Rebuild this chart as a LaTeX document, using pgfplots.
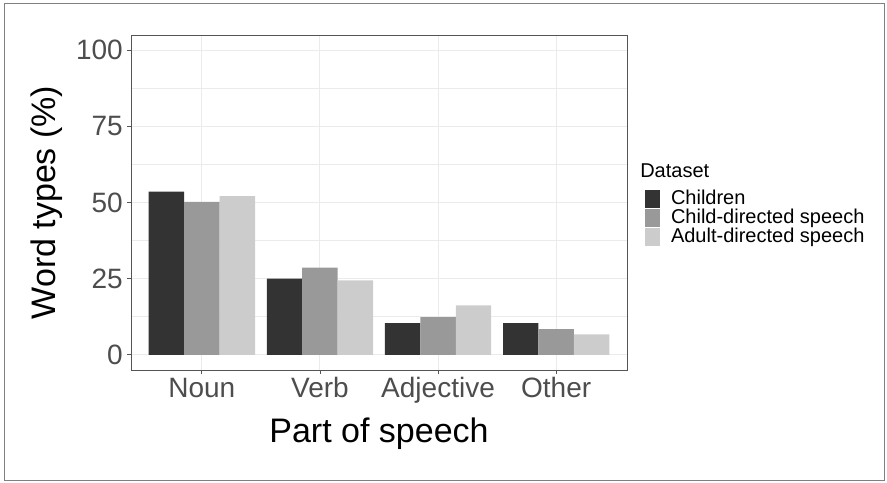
\documentclass[border=0pt]{standalone}
\usepackage{pgfplots}
\pgfplotsset{compat=1.18}
\usepackage{fontspec}
\setmainfont{Liberation Sans}
\definecolor{cA}{HTML}{333333}
\definecolor{cB}{HTML}{999999}
\definecolor{cC}{HTML}{CCCCCC}
\definecolor{gridc}{HTML}{EBEBEB}
\definecolor{tickc}{HTML}{4D4D4D}
\definecolor{framec}{HTML}{555555}
\begin{document}
\begin{tikzpicture}
\useasboundingbox (0pt,0pt) rectangle (665.25pt,361.5pt);
\draw[color=gray, line width=0.75pt] (3pt,1.5pt) rectangle (663pt,358.5pt);
\begin{axis}[
  at={(98.25pt,84pt)}, anchor=south west,
  scale only axis, width=372pt, height=251.25pt,
  xmin=0.4, xmax=4.6, ymin=-5, ymax=105,
  xtick={1,2,3,4}, xticklabels={Noun,Verb,Adjective,Other},
  ytick={0,25,50,75,100}, minor ytick={12.5,37.5,62.5,87.5},
  xmajorgrids, ymajorgrids, yminorgrids,
  major grid style={color=gridc, line width=0.75pt},
  minor grid style={color=gridc, line width=0.4pt},
  axis line style={color=framec, line width=0.6pt},
  major tick style={color=framec, line width=0.6pt},
  major tick length=2.75pt, minor tick length=0pt, tick align=outside,
  xtick pos=bottom, ytick pos=left,
  /pgf/number format/assume math mode=true,
  ticklabel style={font=\fontsize{21}{25}\selectfont, text=tickc},
  xticklabel style={anchor=base, inner sep=0pt, yshift=-17.75pt},
  yticklabel style={anchor=east, inner sep=0pt, xshift=-3.2pt},
  xlabel={Part of speech}, ylabel={Word types (\%)},
  label style={font=\fontsize{25.5}{30}\selectfont, text=black},
  xlabel style={at={(axis description cs:0.5,-0.2179)}, anchor=base, inner sep=0pt},
  ylabel style={at={(axis description cs:-0.1532,0.5)}, anchor=base, inner sep=0pt},
  ybar=0pt, bar width=0.3,
  legend style={at={(axis description cs:1.0363,0.5381)}, anchor=north west,
    draw=none, fill=none, inner sep=0pt, outer sep=0pt, row sep=0pt,
    column sep=8.25pt,
    font=\fontsize{15}{18}\selectfont, text=black,
    nodes={inner sep=0pt, text height=11pt, text depth=3.25pt}},
  legend cell align=left,
  legend image code/.code={\fill[#1] (0pt,-6.35pt) rectangle (11.25pt,7.15pt);},
]
\addplot[fill=cA, draw=none, bar shift=-0.3] coordinates {(1,53.6) (2,25.0) (3,10.4) (4,10.4)};
\addplot[fill=cB, draw=none, bar shift=0] coordinates {(1,50.2) (2,28.6) (3,12.4) (4,8.4)};
\addplot[fill=cC, draw=none, bar shift=0.3] coordinates {(1,52.1) (2,24.4) (3,16.2) (4,6.7)};
\legend{Children,Child-directed speech,Adult-directed speech}
\end{axis}
\node[anchor=base west, inner sep=0pt, font=\fontsize{15}{18}\selectfont] at (480pt,228pt) {Dataset};
\end{tikzpicture}
\end{document}
